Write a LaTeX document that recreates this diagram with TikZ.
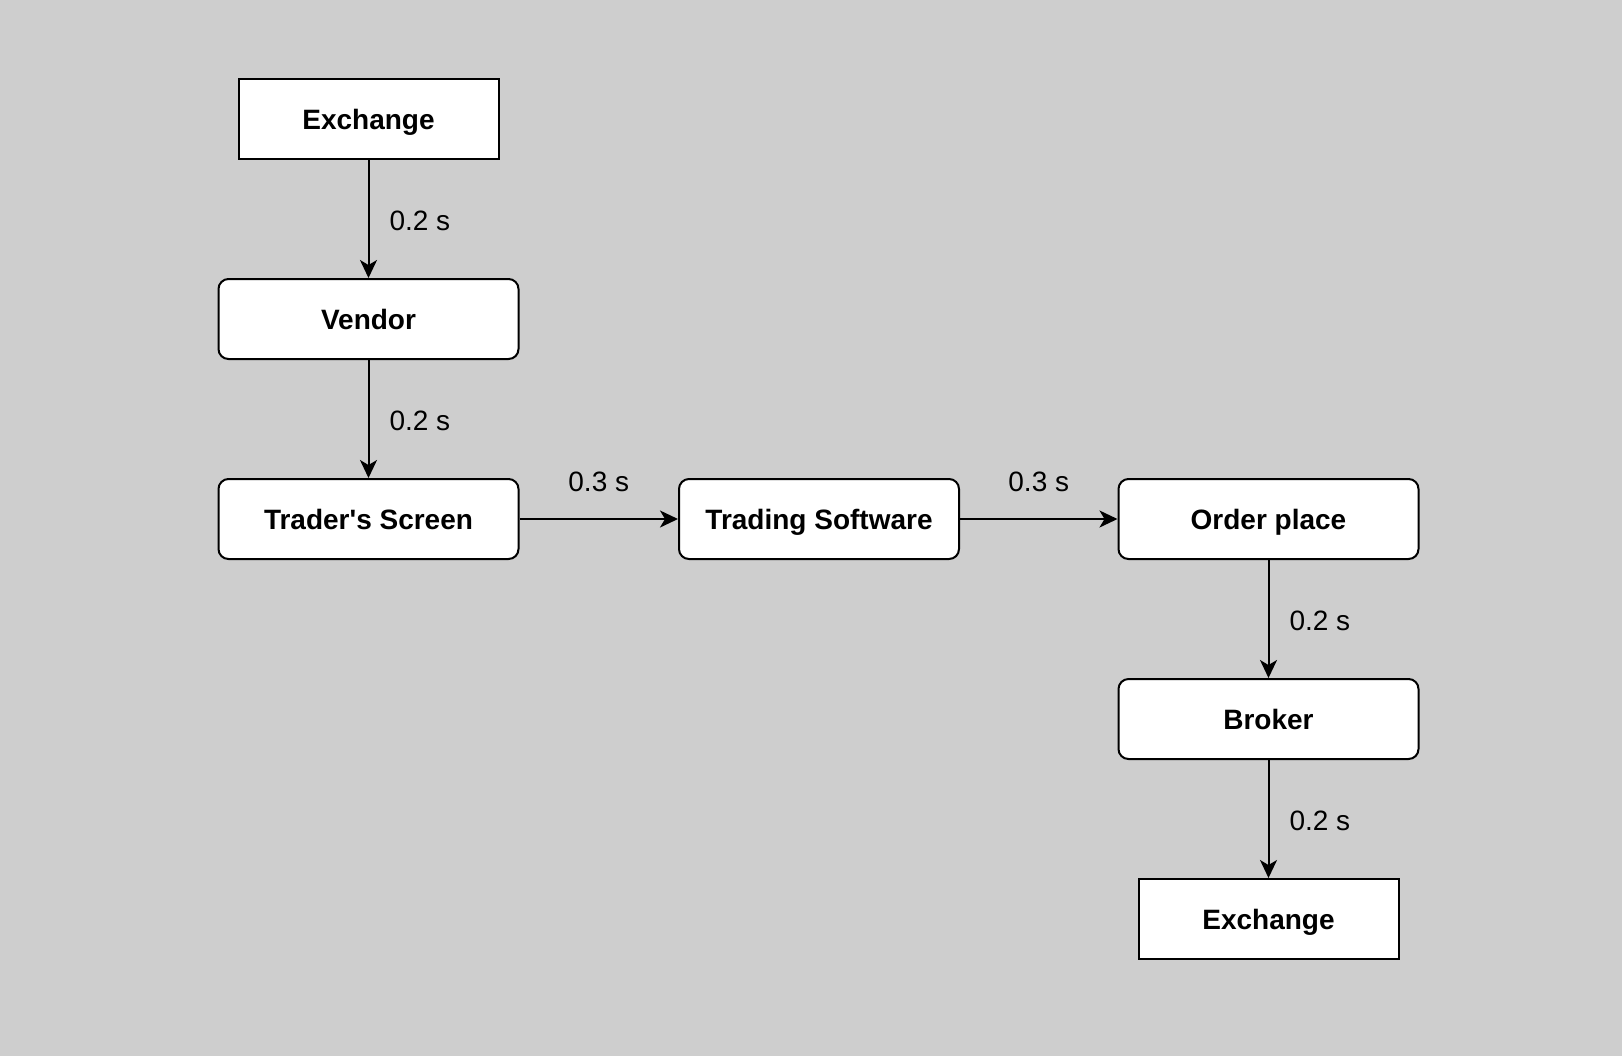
\documentclass[tikz,border=0pt]{standalone}
\usepackage{fontspec}
\setmainfont{Liberation Sans}[Ligatures=ResetAll]
\usetikzlibrary{arrows.meta}
\definecolor{canvas}{RGB}{206,206,206}

\tikzset{
  box/.style={draw,line width=1pt,fill=white,inner sep=0pt,minimum height=40pt,
    text height=13pt,text depth=3pt,font=\fontsize{14}{16}\selectfont\bfseries},
  roundbox/.style={box,rounded corners=5pt},
  link/.style={line width=1pt,-{Stealth[length=9pt,width=8.5pt,inset=2.5pt]}},
  delay/.style={inner sep=0pt,font=\fontsize{14}{16}\selectfont}
}

\begin{document}
\begin{tikzpicture}[x=0.5pt,y=-0.5pt]
  % canvas
  \fill[canvas] (0,0) rectangle (1622,1056);
  \useasboundingbox (0,0) rectangle (1622,1056);
  % feed side
  \node[box,minimum width=130pt]      (exch1)  at (368.5,119)  {Exchange};
  \node[roundbox,minimum width=150pt] (vendor) at (368.5,319)  {Vendor};
  \node[roundbox,minimum width=150pt] (screen) at (368.5,519)  {Trader\textquotesingle s Screen};
  \node[roundbox,minimum width=140pt] (soft)   at (819,519)    {Trading Software};
  % order side
  \node[roundbox,minimum width=150pt] (order)  at (1268.5,519) {Order place};
  \node[roundbox,minimum width=150pt] (broker) at (1268.5,719) {Broker};
  \node[box,minimum width=130pt]      (exch2)  at (1268.5,919) {Exchange};
  % links
  \draw[link] (exch1) -- (vendor) node[delay,midway,right=10pt,yshift=-1pt] {0.2 s};
  \draw[link] (vendor) -- (screen) node[delay,midway,right=10pt,yshift=-1pt] {0.2 s};
  \draw[link] (screen) -- (soft) node[delay,midway,above=13pt] {0.3 s};
  \draw[link] (soft) -- (order) node[delay,midway,above=13pt] {0.3 s};
  \draw[link] (order) -- (broker) node[delay,midway,right=10pt,yshift=-1pt] {0.2 s};
  \draw[link] (broker) -- (exch2) node[delay,midway,right=10pt,yshift=-1pt] {0.2 s};
\end{tikzpicture}
\end{document}
